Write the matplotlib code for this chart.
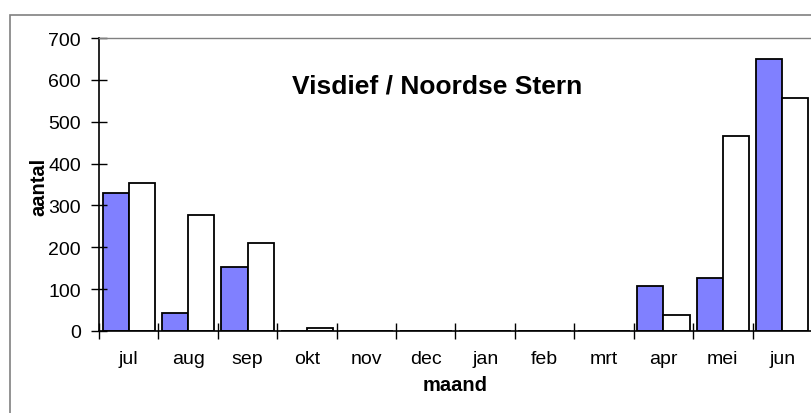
import matplotlib.pyplot as plt
import matplotlib.patches as patches
import numpy as np

plt.rcParams['font.family'] = ['Liberation Sans', 'DejaVu Sans']

months = ["jul", "aug", "sep", "okt", "nov", "dec", "jan", "feb", "mrt", "apr", "mei", "jun"]
series_a = [330, 42, 153, 0, 0, 0, 0, 0, 0, 107, 126, 650]
series_b = [353, 276, 210, 7, 0, 0, 0, 0, 0, 38, 466, 557]

W, H = 812, 414
fig = plt.figure(figsize=(W / 100, H / 100), dpi=100)
ax = fig.add_axes([99 / W, (H - 332) / H, (812 - 99) / W, (332 - 39) / H])

x = np.arange(len(months))
bw = 0.44
ax.bar(x - bw, series_a, width=bw, align='edge', color='#8080FF', edgecolor='black', linewidth=1.3)
ax.bar(x, series_b, width=bw, align='edge', color='white', edgecolor='black', linewidth=1.3)

ax.set_xlim(-0.5, len(months) - 0.5)
ax.set_ylim(0, 700)
ax.set_yticks(range(0, 701, 100))
ax.tick_params(axis='y', direction='inout', length=12, width=1, labelsize=14, pad=7)

# month labels in the middle, tick marks on the category borders
ax.set_xticks(x)
ax.set_xticklabels(months)
ax.set_xticks(np.arange(-0.5, len(months)), minor=True)
ax.tick_params(axis='x', which='major', length=0, labelsize=14, pad=14)
ax.tick_params(axis='x', which='minor', direction='inout', length=11, width=1)

for side in ('left', 'bottom'):
    ax.spines[side].set_color('black')
    ax.spines[side].set_linewidth(1.2)
for side in ('top', 'right'):
    ax.spines[side].set_color('#808080')
    ax.spines[side].set_linewidth(1)

fig.text(437.5 / W, 1 - 93 / H, "Visdief / Noordse Stern",
         ha='center', va='baseline', fontsize=19, fontweight='bold')

fig.text(455 / W, 1 - 386 / H, "maand", ha='center', va='center', fontsize=14.5, fontweight='bold')
fig.text(39 / W, 1 - 187 / H, "aantal", ha='center', va='center', rotation=90,
         fontsize=14.5, fontweight='bold')

# outer chart frame
fig.patches.append(patches.Rectangle((10 / W, -0.1), 1.2, (H - 16) / H + 0.1,
                                     transform=fig.transFigure, fill=False,
                                     edgecolor='#808080', linewidth=1.2))

fig.savefig("out.png", dpi=100)
